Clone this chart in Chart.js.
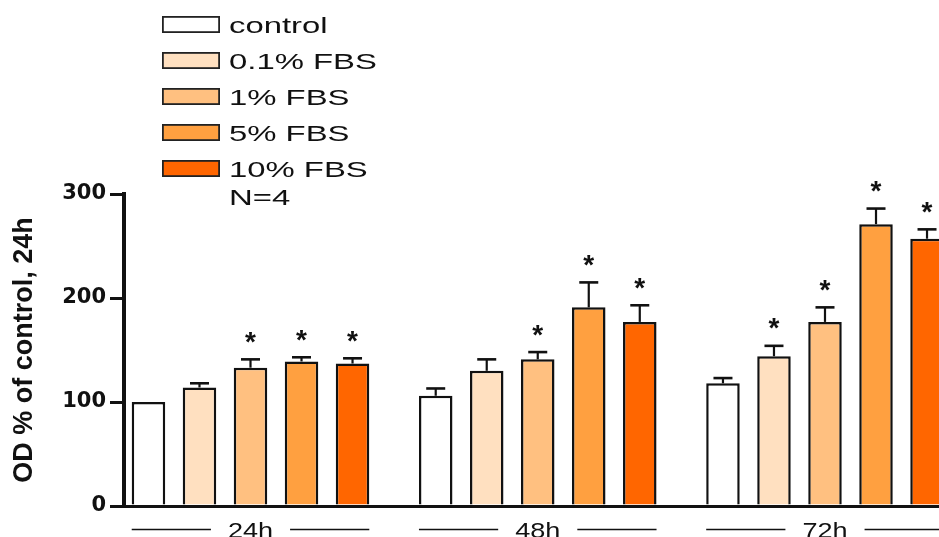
<!DOCTYPE html>
<html>
<head>
<meta charset="utf-8">
<script src="https://cdn.jsdelivr.net/npm/chart.js@4.4.1/dist/chart.umd.min.js"></script>
<style>
  html, body { margin: 0; padding: 0; background: #fff; overflow: hidden; }
  canvas { display: block; }
</style>
</head>
<body>
<canvas id="c" width="939" height="537"></canvas>
<script>
// Time points (groups on the x axis)
const timepoints = ['24h', '48h', '72h'];

// Series names and fills
const seriesNames = ['control', '0.1% FBS', '1% FBS', '5% FBS', '10% FBS'];
const seriesColors = ['#FFFFFF', '#FFE0C0', '#FFC080', '#FFA040', '#FF6600'];

// Means (OD as % of the 24h control)
const controlMean = [100, 106, 118];
const fbs01Mean   = [114, 130, 144];
const fbs1Mean    = [133, 141, 177];
const fbs5Mean    = [139, 191, 271];
const fbs10Mean   = [137, 177, 257];

// SEM (upper error bars)
const controlSem = [0, 7, 5];
const fbs01Sem   = [4, 11, 10];
const fbs1Sem    = [8, 7, 14];
const fbs5Sem    = [4, 24, 15];
const fbs10Sem   = [5, 16, 9];

// Significance vs control (asterisks)
const controlSig = [false, false, false];
const fbs01Sig   = [false, false, true];
const fbs1Sig    = [true, true, true];
const fbs5Sig    = [true, true, true];
const fbs10Sig   = [true, true, true];

const yTicks = [0, 100, 200, 300];
const yTitle = 'OD % of control, 24h';
const sampleNote = 'N=4';

const means = [controlMean, fbs01Mean, fbs1Mean, fbs5Mean, fbs10Mean];
const sems  = [controlSem, fbs01Sem, fbs1Sem, fbs5Sem, fbs10Sem];
const sigs  = [controlSig, fbs01Sig, fbs1Sig, fbs5Sig, fbs10Sig];

const datasets = seriesNames.map((name, s) => ({
  label: name,
  data: means[s].map((v, i) => ({ x: i, y: v })),
  sem: sems[s],
  sig: sigs[s],
  backgroundColor: seriesColors[s],
  borderColor: '#111',
  borderWidth: 2.5,
  borderSkipped: 'start',
  categoryPercentage: 0.888,
  barPercentage: 0.657
}));

// Horizontally widened text, used for the legend and group labels
function wideText(ctx, text, x, y, sx) {
  ctx.save();
  ctx.translate(x, y);
  ctx.scale(sx, 1);
  ctx.fillText(text, 0, 0);
  ctx.restore();
}

// Upper error bars and significance stars
const errorBars = {
  id: 'errorBars',
  afterDatasetsDraw(chart) {
    const ctx = chart.ctx;
    const yScale = chart.scales.y;
    ctx.save();
    chart.data.datasets.forEach((ds, d) => {
      const meta = chart.getDatasetMeta(d);
      meta.data.forEach((bar, i) => {
        const v = ds.data[i].y;
        const e = ds.sem[i];
        let top = bar.y;
        if (e > 0) {
          top = yScale.getPixelForValue(v + e);
          ctx.strokeStyle = '#111';
          ctx.lineWidth = 2.2;
          ctx.beginPath();
          ctx.moveTo(bar.x, bar.y);
          ctx.lineTo(bar.x, top);
          ctx.stroke();
          ctx.lineWidth = 2.6;
          ctx.beginPath();
          ctx.moveTo(bar.x - 9.5, top);
          ctx.lineTo(bar.x + 9.5, top);
          ctx.stroke();
        }
        if (ds.sig[i]) {
          ctx.fillStyle = '#111';
          ctx.font = 'bold 28px "Liberation Sans", Arial, sans-serif';
          ctx.textAlign = 'center';
          ctx.textBaseline = 'alphabetic';
          const m = ctx.measureText('*');
          const h = m.actualBoundingBoxAscent - m.actualBoundingBoxDescent;
          const cy = top - 14;
          ctx.fillText('*', bar.x, cy + m.actualBoundingBoxAscent - h / 2);
        }
      });
    });
    ctx.restore();
  }
};

// Group labels under the axis, flanked by lines spanning each group
const groupLabels = {
  id: 'groupLabels',
  afterDraw(chart) {
    const ctx = chart.ctx;
    const first = chart.getDatasetMeta(0);
    const last = chart.getDatasetMeta(chart.data.datasets.length - 1);
    const lineY = 529.5;
    const sx = 1.23;
    ctx.save();
    ctx.font = '22px "Liberation Sans", Arial, sans-serif';
    ctx.fillStyle = '#111';
    ctx.strokeStyle = '#111';
    ctx.lineWidth = 1.5;
    ctx.textBaseline = 'alphabetic';
    ctx.textAlign = 'left';
    timepoints.forEach((label, i) => {
      const b0 = first.data[i], b1 = last.data[i];
      const left = b0.x - b0.width / 2;
      const right = b1.x + b1.width / 2;
      const cx = chart.scales.x.getPixelForValue(i);
      const w = ctx.measureText(label).width * sx;
      const gap = w / 2 + 17;
      ctx.beginPath();
      ctx.moveTo(left, lineY);
      ctx.lineTo(cx - gap, lineY);
      ctx.moveTo(cx + gap, lineY);
      ctx.lineTo(right, lineY);
      ctx.stroke();
      wideText(ctx, label, cx - w / 2, 537.5, sx);
    });
    ctx.restore();
  }
};

// Legend stacked in the upper left, followed by the sample size
const boxLegend = {
  id: 'boxLegend',
  afterDraw(chart) {
    const ctx = chart.ctx;
    const sx = 1.46;
    ctx.save();
    ctx.font = '22.5px "Liberation Sans", Arial, sans-serif';
    ctx.textBaseline = 'alphabetic';
    ctx.textAlign = 'left';
    chart.data.datasets.forEach((ds, i) => {
      const top = 16 + 36 * i;
      ctx.fillStyle = ds.backgroundColor;
      ctx.fillRect(162, top, 58, 17);
      ctx.strokeStyle = '#222';
      ctx.lineWidth = 1.8;
      ctx.strokeRect(162.9, top + 0.9, 56.2, 15.2);
      ctx.fillStyle = '#111';
      wideText(ctx, ds.label, 229, top + 17, sx);
    });
    wideText(ctx, sampleNote, 229, 205, sx);
    ctx.restore();
  }
};

new Chart(document.getElementById('c'), {
  type: 'bar',
  data: { datasets },
  plugins: [errorBars, groupLabels, boxLegend],
  options: {
    responsive: false,
    animation: false,
    devicePixelRatio: 1,
    layout: { padding: { top: 194, left: 0, right: 0, bottom: 0 } },
    plugins: { legend: { display: false }, tooltip: { enabled: false } },
    scales: {
      x: {
        type: 'linear',
        position: 'bottom',
        offset: false,
        min: -0.4404,
        max: 2.3969,
        afterBuildTicks: (scale) => { scale.ticks = timepoints.map((_, i) => ({ value: i })); },
        afterFit: (scale) => { scale.height = 31; },
        ticks: { display: false },
        grid: { display: false, drawTicks: false, offset: false },
        border: { display: true, color: '#111', width: 3 }
      },
      y: {
        min: 0,
        max: 300,
        afterBuildTicks: (scale) => { scale.ticks = yTicks.map(v => ({ value: v })); },
        afterFit: (scale) => { scale.width = 124; },
        ticks: {
          color: '#111',
          padding: 4,
          font: { family: '"DejaVu Sans", sans-serif', size: 21, weight: 'bold' }
        },
        grid: { drawOnChartArea: false, drawTicks: true, tickLength: 14, color: '#111', lineWidth: 3 },
        border: { display: true, color: '#111', width: 4 },
        title: {
          display: true,
          text: yTitle,
          color: '#111',
          padding: { top: 8, bottom: 0 },
          font: { family: '"Liberation Sans", Arial, sans-serif', size: 27, weight: 'bold' }
        }
      }
    }
  }
});
</script>
</body>
</html>
